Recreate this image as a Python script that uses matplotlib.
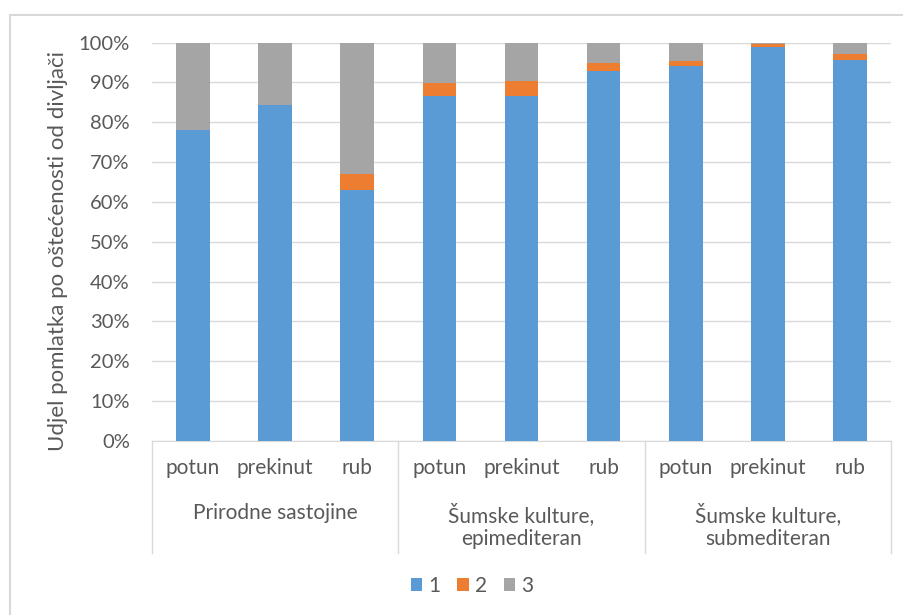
import numpy as np
import matplotlib.pyplot as plt
from matplotlib.patches import Rectangle

plt.rcParams['font.family'] = ['Lato', 'DejaVu Sans']

sites = ["potun", "prekinut", "rub"] * 3
groups = ["Prirodne sastojine", "Šumske kulture,\nepimediteran", "Šumske kulture,\nsubmediteran"]
s1 = [78.1, 84.2, 63.0, 86.6, 86.6, 92.9, 94.0, 98.8, 95.5]
s2 = [0.0, 0.0, 4.1, 3.2, 3.8, 2.0, 1.4, 0.8, 1.5]
s3 = [21.9, 15.8, 32.9, 10.2, 9.6, 5.1, 4.6, 0.4, 3.0]
series_names = ["1", "2", "3"]
colors = ["#5B9BD5", "#ED7D31", "#A5A5A5"]

W, H = 904, 615
fig = plt.figure(figsize=(W / 100, H / 100), dpi=100)
ax = fig.add_axes([152 / W, 1 - 441 / H, (891 - 152) / W, (441 - 42.5) / H])

x = np.arange(len(sites))
vals = [np.array(s1) / 100, np.array(s2) / 100, np.array(s3) / 100]
bottom = np.zeros(len(sites))
for v, c, name in zip(vals, colors, series_names):
    ax.bar(x, v, 0.41, bottom=bottom, color=c, label=name, zorder=3)
    bottom += v

ax.set_xlim(-0.5, len(sites) - 0.5)
ax.set_ylim(0, 1)
ax.set_yticks(np.linspace(0, 1, 11))
ax.set_yticklabels([f"{int(t)}%" for t in np.arange(0, 101, 10)])
ax.tick_params(axis='y', length=0, pad=16, labelsize=14.5, labelcolor="#595959")
ax.set_xticks([])
ax.grid(axis='y', color="#d9d9d9", lw=1, zorder=0)
for s in ["top", "right", "left"]:
    ax.spines[s].set_visible(False)
ax.spines["bottom"].set_color("#d9d9d9")

# y axis title
fig.text(58 / W, 1 - 251 / H, "Udjel pomlatka po oštećenosti od divljači", rotation=90,
         ha='center', va='center', fontsize=16, color="#595959")

# category labels
for xi, lab in zip(x, sites):
    ax.text(xi, -(468 - 441) / 398.5, lab, ha='center', va='center', fontsize=15,
            color="#595959", transform=ax.get_xaxis_transform())
for gi, g in enumerate(groups):
    ax.text(gi * 3 + 1, -(503 - 441) / 398.5, g, ha='center', va='top', fontsize=15,
            color="#595959", transform=ax.get_xaxis_transform(), linespacing=1.2)
for b in [-0.5, 2.5, 5.5, 8.5]:
    ax.plot([b, b], [0, -(553 - 441) / 398.5], color="#d9d9d9", lw=1,
            transform=ax.get_xaxis_transform(), clip_on=False)

fig.legend(loc='center', bbox_to_anchor=(472 / W, 1 - 586 / H), ncol=3, frameon=False,
           handlelength=0.55, handleheight=0.55, handletextpad=0.3, columnspacing=0.8,
           fontsize=15, labelcolor="#595959")

fig.patches.append(Rectangle((10 / W, -0.05), 1.1, 1 - 15 / H + 0.05, transform=fig.transFigure,
                             fill=False, edgecolor="#d9d9d9", lw=1.5))

fig.savefig("out.png", dpi=100)
